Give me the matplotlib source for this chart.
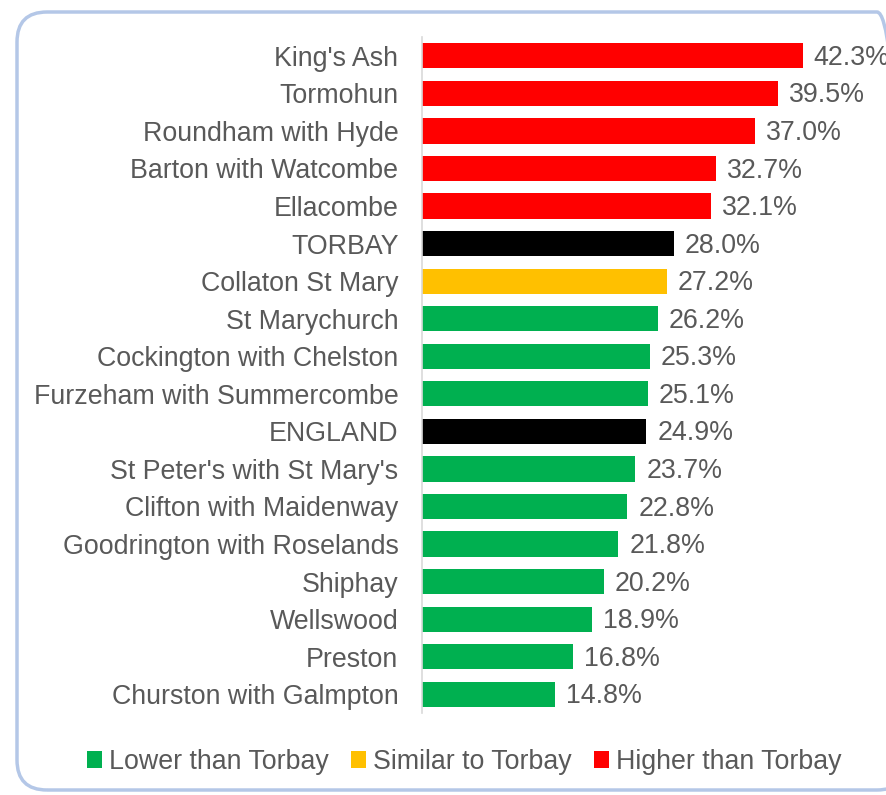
import matplotlib.pyplot as plt
from matplotlib.patches import FancyBboxPatch, Patch

plt.rcParams['font.family'] = ['Liberation Sans', 'DejaVu Sans']

wards = ["King's Ash", "Tormohun", "Roundham with Hyde", "Barton with Watcombe",
         "Ellacombe", "TORBAY", "Collaton St Mary", "St Marychurch",
         "Cockington with Chelston", "Furzeham with Summercombe", "ENGLAND",
         "St Peter's with St Mary's", "Clifton with Maidenway",
         "Goodrington with Roselands", "Shiphay", "Wellswood", "Preston",
         "Churston with Galmpton"]
values = [42.3, 39.5, 37.0, 32.7, 32.1, 28.0, 27.2, 26.2, 25.3, 25.1, 24.9,
          23.7, 22.8, 21.8, 20.2, 18.9, 16.8, 14.8]
groups = ["higher"] * 5 + ["ref", "similar"] + ["lower"] * 3 + ["ref"] + ["lower"] * 7

colours = {"lower": "#00B050", "similar": "#FFC000", "higher": "#FF0000", "ref": "#000000"}
legend_labels = [("lower", "Lower than Torbay"), ("similar", "Similar to Torbay"),
                 ("higher", "Higher than Torbay")]
text_col = "#595959"
fs = 19.3

fig = plt.figure(figsize=(8.86, 7.95), dpi=100)

# rounded border round the whole chart
box = FancyBboxPatch((0.17, 0.05), 8.9, 7.78, boxstyle="round,pad=0,rounding_size=0.3",
                     transform=fig.dpi_scale_trans, facecolor="none",
                     edgecolor="#B4C7E7", linewidth=2.5, zorder=0)
fig.patches.append(box)

ax = fig.add_axes([0.4763, 0.1031, 0.5079, 0.8503])
ax.set_facecolor("none")
ypos = list(range(len(wards)))
bars = ax.barh(ypos, values, height=0.67, color=[colours[g] for g in groups])
ax.set_ylim(len(wards) - 0.5, -0.5)
ax.set_xlim(0, 50)
ax.set_yticks(ypos)
ax.set_yticklabels(wards, fontsize=fs, color=text_col)
ax.tick_params(axis="y", length=0, pad=17)
ax.set_xticks([])
for s in ["top", "right", "bottom"]:
    ax.spines[s].set_visible(False)
ax.spines["left"].set_color("#D9D9D9")
ax.spines["left"].set_linewidth(1.2)

# value labels (the top one runs off the right edge, as in the original)
for b, v in zip(bars, values):
    ax.annotate(f"{v:.1f}%", (v, b.get_y() + b.get_height() / 2), xytext=(8, -1.5),
                textcoords="offset points", va="center", ha="left",
                fontsize=fs, color=text_col, annotation_clip=False)

handles = [Patch(facecolor=colours[k], label=lab) for k, lab in legend_labels]
leg = fig.legend(handles=handles, loc="center", bbox_to_anchor=(0.524, 0.0415), ncol=3,
                 frameon=False, fontsize=fs, handlelength=0.55, handleheight=0.55,
                 handletextpad=0.25, columnspacing=0.85)
for t in leg.get_texts():
    t.set_color(text_col)

fig.savefig("out.png", dpi=100)
